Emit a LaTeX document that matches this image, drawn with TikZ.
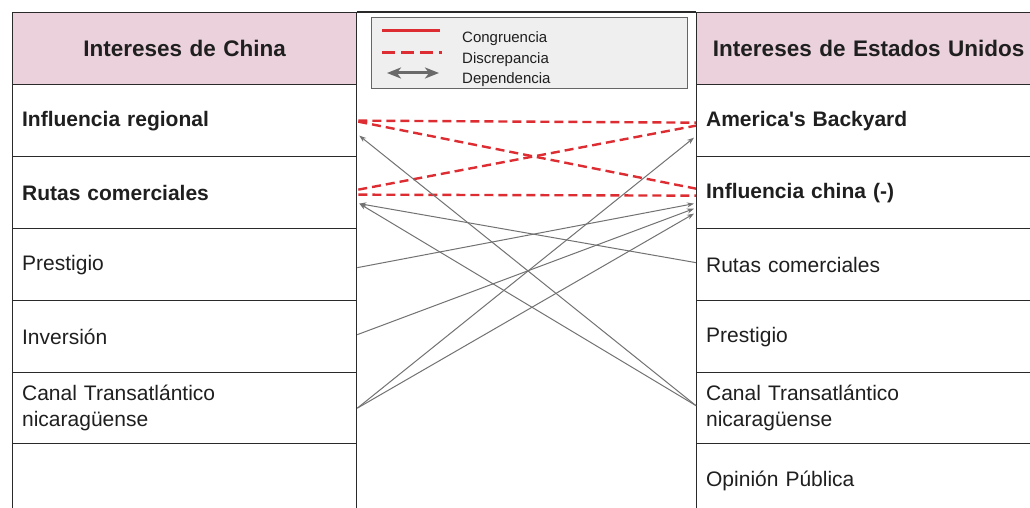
\documentclass[tikz,border=0pt]{standalone}
\usepackage{fontspec}
\setmainfont{Liberation Sans}
\usetikzlibrary{calc,arrows.meta}
\definecolor{hdr}{HTML}{EAD1DC}
\definecolor{leg}{HTML}{EFEFEF}
\definecolor{legC}{HTML}{666666}
\definecolor{red1}{RGB}{222,45,50}
\definecolor{arr}{HTML}{727272}
\definecolor{arrL}{HTML}{6A6A6A}
\definecolor{txt}{HTML}{1F1F1F}
\definecolor{lineC}{HTML}{2A2A2A}
\begin{document}
\begin{tikzpicture}[x=1pt,y=-1pt,
  cellbox/.style={draw=lineC, line width=1.3pt, minimum width=344pt, minimum height=#1,
    inner xsep=9.5pt, inner ysep=0pt, text width=325pt, align=left, anchor=north west,
    font=\fontsize{21}{26}\selectfont, text=txt},
  cellbox/.default=72pt,
  hdrbox/.style={cellbox, fill=hdr, align=center, font=\fontsize{22.5}{27}\selectfont\bfseries},
  bcell/.style={cellbox=#1, font=\fontsize{21}{26}\selectfont\bfseries},
  bcell/.default=72pt,
  disc/.style={draw=red1, line width=2.4pt, dash pattern=on 9pt off 5pt},
  dep/.style={draw=arr, line width=1pt, -{Stealth[length=7pt,width=5pt]}},
  legtxt/.style={anchor=base west, font=\fontsize{15}{18}\selectfont, inner sep=0pt, text=txt},
]
\clip (0,0) rectangle (1030,508);
\fill[white] (0,0) rectangle (1030,508);

% left table
\node[hdrbox] (LH) at (12,12) {Intereses de China};
\node[bcell] (L1) at (12,84) {Influencia regional};
\node[bcell] (L2) at (12,156) {Rutas comerciales};
\node[cellbox] (L3) at (12,228) {Prestigio};
\node[cellbox] (L4) at (12,300) {Inversión};
\node[cellbox=71pt] (L5) at (12,372) {Canal Transatlántico\\nicaragüense};
\node[cellbox=80pt] (L6) at (12,443) {};

% right table
\node[hdrbox] (RH) at (696,12) {Intereses de Estados Unidos};
\node[bcell] (R1) at (696,84) {America\textquotesingle s Backyard};
\node[bcell] (R2) at (696,156) {Influencia china (-)};
\node[cellbox] (R3) at (696,228) {Rutas comerciales};
\node[cellbox] (R4) at (696,300) {Prestigio};
\node[cellbox=71pt] (R5) at (696,372) {Canal Transatlántico\\nicaragüense};
\node[cellbox=74pt] (R6) at (696,443) {Opinión Pública};

\draw[draw=lineC, line width=1.3pt] (LH.north east) -- (RH.north west);

% legend
\node[draw=legC, fill=leg, line width=1pt, minimum width=316pt, minimum height=71pt,
  anchor=north west, inner sep=0pt] (legend) at (371,17) {};
\coordinate (c1a) at (382,31); \coordinate (c1b) at (440,31);
\coordinate (c2a) at (382,53); \coordinate (c2b) at (442,53);
\coordinate (c3a) at (387,73); \coordinate (c3b) at (439,73);
\draw[draw=red1, line width=3pt] (c1a) -- (c1b);
\draw[draw=red1, line width=3pt, dash pattern=on 13pt off 6pt] (c2a) -- (c2b);
\draw[draw=arrL, line width=3pt, {Stealth[length=14pt,width=11pt,inset=4pt]}-{Stealth[length=14pt,width=11pt,inset=4pt]}] (c3a) -- (c3b);
\node[legtxt] (t1) at (462,43) {Congruencia};
\node[legtxt] (t2) at (462,64) {Discrepancia};
\node[legtxt] (t3) at (462,84) {Dependencia};

% discrepancies
\draw[disc] ($(L1.east)+(1,0)$) -- ($(R1.west)+(0,2)$);
\draw[disc] ($(L1.east)+(1,1)$) -- ($(R2.west)+(0,-4)$);
\draw[disc] ($(L2.east)+(1,-3)$) -- ($(R1.west)+(0,5)$);
\draw[disc] ($(L2.east)+(1,2)$) -- ($(R2.west)+(0,3)$);

% dependencies
\draw[dep] ($(R3.west)+(0,-2)$) -- ($(L2.east)+(2,11)$);
\draw[dep] ($(R5.west)+(0,-2.5)$) -- ($(L2.east)+(2,11)$);
\draw[dep] ($(R5.west)+(0,-2.5)$) -- ($(L1.east)+(2,15)$);
\draw[dep] ($(L3.east)+(0,3)$) -- ($(R2.west)+(-2,11)$);
\draw[dep] ($(L4.east)+(0,-2)$) -- ($(R2.west)+(-2,16)$);
\draw[dep] (L5.east) -- ($(R2.west)+(-2,21)$);
\draw[dep] (L5.east) -- ($(R1.west)+(-2,17)$);
\end{tikzpicture}
\end{document}
